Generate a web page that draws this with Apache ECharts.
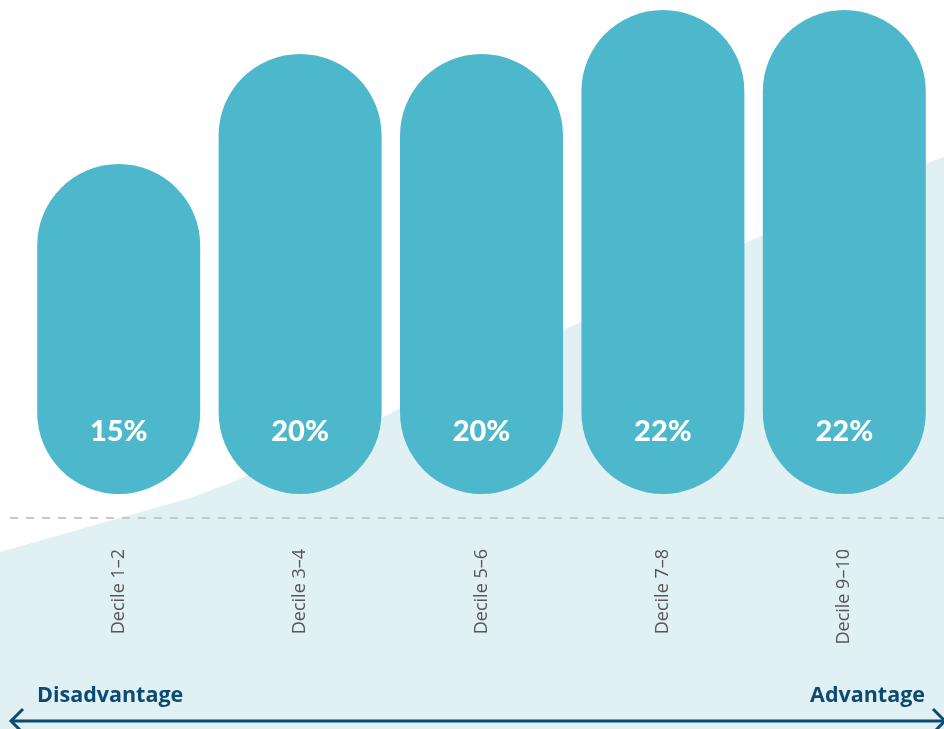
<!DOCTYPE html>
<html>
<head>
<meta charset="utf-8">
<script src="https://cdn.jsdelivr.net/npm/echarts@6/dist/echarts.min.js"></script>
<style>html,body{margin:0;padding:0;background:#fff}#c{width:944px;height:729px}</style>
</head>
<body>
<div id="c"></div>
<script>
const categories = ['Decile 1–2', 'Decile 3–4', 'Decile 5–6', 'Decile 7–8', 'Decile 9–10'];
const values = [15, 20, 20, 22, 22];
const leftLabel = 'Disadvantage';
const rightLabel = 'Advantage';

const chart = echarts.init(document.getElementById('c'));
const curve = [[0,552],[190,498],[230,483],[382,418],[400,408],[563,330],[581,322],[745,243],[763,235],[927,163],[944,157],[944,729],[0,729]];
const option = {
  animation: false,
  backgroundColor: '#ffffff',
  grid: { left: 28, right: 9, top: 10, bottom: 211 },
  xAxis: {
    type: 'category',
    data: categories,
    axisLine: { show: false, onZero: false },
    axisTick: { show: false },
    axisLabel: { rotate: 90, margin: 31, color: '#555555', fontSize: 18, fontFamily: 'Open Sans' }
  },
  yAxis: { type: 'value', min: -1.09, max: 22, show: false, splitLine: { show: false } },
  graphic: [
    { type: 'polygon', z: -10, silent: true, shape: { points: curve }, style: { fill: '#e1f0f3' } },
    { type: 'line', z: -5, silent: true, shape: { x1: 10, y1: 518, x2: 944, y2: 518 },
      style: { stroke: '#c8c8c8', lineWidth: 2, lineDash: [8, 8] } },
    { type: 'line', silent: true, shape: { x1: 11, y1: 721, x2: 944, y2: 721 },
      style: { stroke: '#0b4a72', lineWidth: 3 } },
    { type: 'polyline', silent: true, shape: { points: [[23,709],[11,721],[23,733]] },
      style: { stroke: '#0b4a72', lineWidth: 3, fill: null } },
    { type: 'polyline', silent: true, shape: { points: [[933,709],[945,721],[933,733]] },
      style: { stroke: '#0b4a72', lineWidth: 3, fill: null } },
    { type: 'text', left: 37, top: 685, style: { text: leftLabel, fill: '#0b4a72', font: 'bold 21.5px "Open Sans"' } },
    { type: 'text', right: 19, top: 685, style: { text: rightLabel, fill: '#0b4a72', font: 'bold 21.5px "Open Sans"' } }
  ],
  series: [{
    type: 'bar',
    data: values,
    barWidth: 163,
    itemStyle: { color: '#4db8cc', borderRadius: 82 },
    label: {
      show: true,
      position: 'insideBottom',
      distance: 48,
      formatter: p => p.value + '%',
      color: '#ffffff',
      fontSize: 29,
      fontWeight: 900,
      fontFamily: 'Lato'
    }
  }]
};
chart.setOption(option);
</script>
</body>
</html>
